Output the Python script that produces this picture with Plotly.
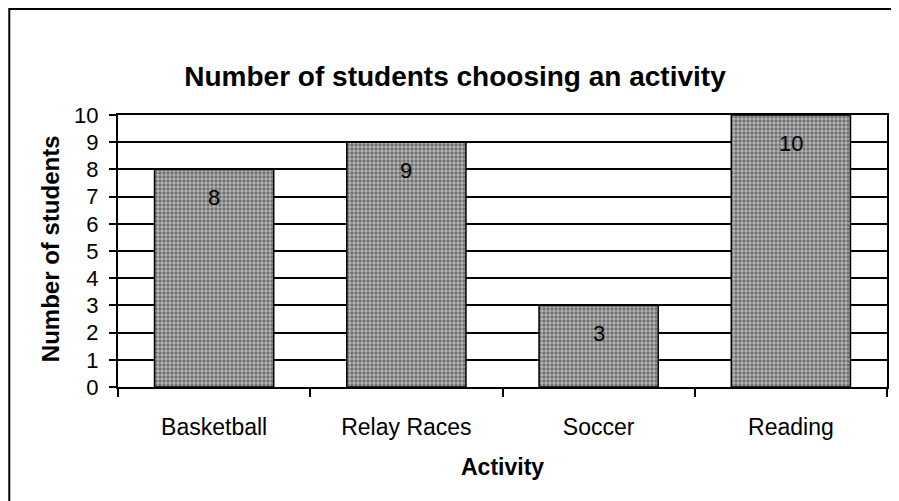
import plotly.graph_objects as go

categories = ["Basketball", "Relay Races", "Soccer", "Reading"]
students = [8, 9, 3, 10]
y_ticks = list(range(0, 11))

FONT = "Liberation Sans, Arial, sans-serif"

W, H = 891, 493
L, T, PW, PH = 110, 107, 771, 272
R, B = W - L - PW, H - T - PH

def px_x(x):
    return (x - L) / PW

def px_y(y):
    return (T + PH - y) / PH

fig = go.Figure()
fig.add_trace(go.Bar(
    x=categories,
    y=students,
    width=0.62,
    marker=dict(
        color="#a0a0a0",
        line=dict(color="black", width=1.5),
        pattern=dict(shape=".", fgcolor="#2a2a2a", bgcolor="#b8b8b8", size=4, solidity=0.55),
    ),
    hoverinfo="skip",
))

for c, v in zip(categories, students):
    fig.add_annotation(x=c, y=v, text=str(v), showarrow=False, yshift=-28,
                       font=dict(family=FONT, size=22, color="black"))

# axis titles
fig.add_annotation(x=px_x(42), y=px_y(241), xref="paper", yref="paper", text="<b>Number of students</b>",
                   textangle=-90, showarrow=False, xanchor="center", yanchor="middle",
                   font=dict(family=FONT, size=24, color="black"))
fig.add_annotation(x=0.5, y=px_y(459), xref="paper", yref="paper", text="<b>Activity</b>",
                   showarrow=False, xanchor="center", yanchor="middle",
                   font=dict(family=FONT, size=23, color="black"))

# outer chart border (top and left visible)
fig.add_shape(type="rect", xref="paper", yref="paper", x0=px_x(1), x1=1.5, y0=-1.0, y1=px_y(1),
              line=dict(color="black", width=2), fillcolor="rgba(0,0,0,0)", layer="above")

fig.update_layout(
    width=W, height=H,
    margin=dict(l=L, r=R, t=T, b=B),
    paper_bgcolor="white", plot_bgcolor="white",
    showlegend=False,
    title=dict(text="<b>Number of students choosing an activity</b>", x=447 / W, xanchor="center",
               y=1 - 68 / H, yanchor="middle", font=dict(family=FONT, size=28, color="black")),
    font=dict(family=FONT, color="black"),
)
fig.update_xaxes(
    type="category", showline=True, linecolor="black", linewidth=2, mirror=True,
    ticks="outside", tickson="boundaries", ticklen=8, tickcolor="black", tickwidth=1.5,
    tickfont=dict(family=FONT, size=23, color="black"), ticklabelstandoff=18,
    showgrid=False,
)
fig.update_yaxes(
    range=[0, 10], tickvals=y_ticks, showline=True, linecolor="black", linewidth=2, mirror=True,
    ticks="outside", ticklen=7, tickcolor="black", tickwidth=1.5,
    tickfont=dict(family=FONT, size=22, color="black"), ticklabelstandoff=6,
    showgrid=True, gridcolor="black", gridwidth=2, zeroline=False,
)

fig.write_html("out.html")
